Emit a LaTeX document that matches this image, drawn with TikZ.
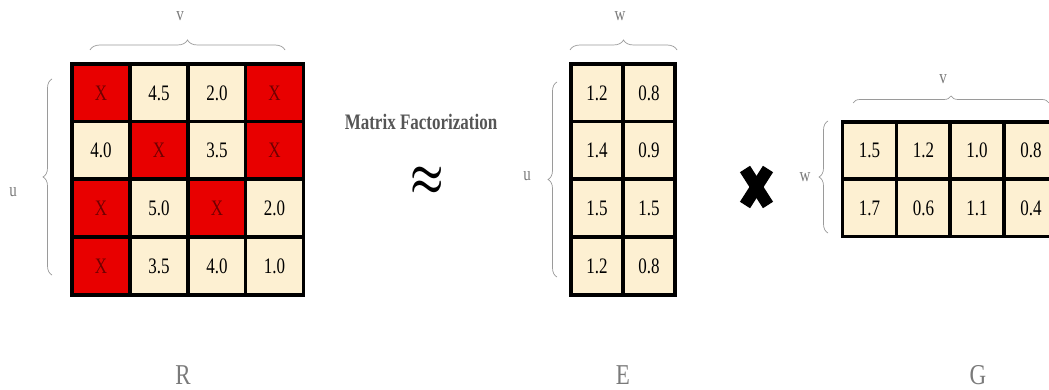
\documentclass[tikz,border=0pt]{standalone}
\usepackage{fontspec}
\setmainfont{Liberation Serif}
\usetikzlibrary{decorations.pathreplacing}
\definecolor{cream}{HTML}{FDF0D2}
\definecolor{cellred}{HTML}{E80000}
\definecolor{xred}{HTML}{700000}
\definecolor{lblgray}{HTML}{7A7A7A}
\definecolor{bracegray}{HTML}{9A9A9A}
\definecolor{titlegray}{HTML}{555555}
\newcommand{\tallt}[1]{\scalebox{1}[1.3]{#1}}
\begin{document}
\begin{tikzpicture}[x=1pt,y=-1pt,
  cellc/.style={draw=black,line width=3.5pt,fill=cream,minimum width=58pt,minimum height=58pt,inner sep=0pt,font=\fontsize{17}{17}\selectfont},
  cellr/.style={cellc,fill=cellred,text=xred},
  celle/.style={cellc,minimum width=52pt},
  cellg/.style={cellc,minimum width=54pt,minimum height=57pt},
  bracepath/.style={decorate,decoration={brace,amplitude=#1},draw=bracegray,line width=0.7pt},
  dimlabel/.style={text=lblgray,font=\fontsize{15}{15}\selectfont,inner sep=0pt},
  matlabel/.style={text=lblgray,font=\fontsize{23}{23}\selectfont,inner sep=0pt},
  xmark/.style={line width=12pt,draw=black}]
\useasboundingbox (0,0) rectangle (1049,390);
% ---- R matrix
\node[cellr] (r11) at (101,93) {\tallt{X}};
\node[cellc] (r12) at (159,93) {\tallt{4.5}};
\node[cellc] (r13) at (217,93) {\tallt{2.0}};
\node[cellr] (r14) at (274.5,93) {\tallt{X}};
\node[cellc] (r21) at (101,150.5) {\tallt{4.0}};
\node[cellr] (r22) at (159,150.5) {\tallt{X}};
\node[cellc] (r23) at (217,150.5) {\tallt{3.5}};
\node[cellr] (r24) at (274.5,150.5) {\tallt{X}};
\node[cellr] (r31) at (101,208) {\tallt{X}};
\node[cellc] (r32) at (159,208) {\tallt{5.0}};
\node[cellr] (r33) at (217,208) {\tallt{X}};
\node[cellc] (r34) at (274.5,208) {\tallt{2.0}};
\node[cellr] (r41) at (101,266) {\tallt{X}};
\node[cellc] (r42) at (159,266) {\tallt{3.5}};
\node[cellc] (r43) at (217,266) {\tallt{4.0}};
\node[cellc] (r44) at (274.5,266) {\tallt{1.0}};
% ---- E matrix
\node[celle] (e11) at (597,93) {\tallt{1.2}};
\node[celle] (e12) at (649,93) {\tallt{0.8}};
\node[celle] (e21) at (597,150.5) {\tallt{1.4}};
\node[celle] (e22) at (649,150.5) {\tallt{0.9}};
\node[celle] (e31) at (597,208) {\tallt{1.5}};
\node[celle] (e32) at (649,208) {\tallt{1.5}};
\node[celle] (e41) at (597,266) {\tallt{1.2}};
\node[celle] (e42) at (649,266) {\tallt{0.8}};
% ---- G matrix
\node[cellg] (g11) at (869.5,150.5) {\tallt{1.5}};
\node[cellg] (g12) at (923.5,150.5) {\tallt{1.2}};
\node[cellg] (g13) at (977,150.5) {\tallt{1.0}};
\node[cellg] (g14) at (1031,150.5) {\tallt{0.8}};
\node[cellg] (g21) at (869.5,208) {\tallt{1.7}};
\node[cellg] (g22) at (923.5,208) {\tallt{0.6}};
\node[cellg] (g23) at (977,208) {\tallt{1.1}};
\node[cellg] (g24) at (1031,208) {\tallt{0.4}};
% ---- braces
\coordinate (rvL) at (90,50);  \coordinate (rvR) at (285,50);
\coordinate (ruB) at (52,275); \coordinate (ruT) at (52,79);
\coordinate (ewL) at (570,50); \coordinate (ewR) at (677,50);
\coordinate (euB) at (557,277); \coordinate (euT) at (557,82);
\coordinate (gvL) at (853,103); \coordinate (gvR) at (1049,103);
\coordinate (gwB) at (828,233); \coordinate (gwT) at (828,121);
\draw[bracepath=10pt] (rvL) -- (rvR);
\draw[bracepath=9pt] (ruB) -- (ruT);
\draw[bracepath=10pt] (ewL) -- (ewR);
\draw[bracepath=9pt] (euB) -- (euT);
\draw[bracepath=7pt] (gvL) -- (gvR);
\draw[bracepath=9pt] (gwB) -- (gwT);
% ---- dimension labels
\node[dimlabel] (lv1) at (180,16) {\tallt{v}};
\node[dimlabel] (lu1) at (13,192) {\tallt{u}};
\node[dimlabel] (lw1) at (620,16) {\tallt{w}};
\node[dimlabel] (lu2) at (527,176) {\tallt{u}};
\node[dimlabel] (lv2) at (943,79) {\tallt{v}};
\node[dimlabel] (lw2) at (805,177) {\tallt{w}};
% ---- matrix names
\node[matlabel] (nR) at (183,375) {\scalebox{1}[1.25]{R}};
\node[matlabel] (nE) at (623,375) {\scalebox{1}[1.25]{E}};
\node[matlabel] (nG) at (978,375) {\scalebox{1}[1.25]{G}};
% ---- operators
\node[text=titlegray,font=\bfseries\fontsize{17}{17}\selectfont,inner sep=0pt] (mf) at (421,122) {\tallt{Matrix Factorization}};
\node[inner sep=0pt,font=\fontsize{38}{38}\selectfont] (approx) at (427,181) {\scalebox{1.5}[2.1]{\boldmath$\approx$}};
\coordinate (xa) at (745,169); \coordinate (xb) at (768,205);
\coordinate (xc) at (768,169); \coordinate (xd) at (745,205);
\draw[xmark] (xa) -- (xb);
\draw[xmark] (xc) -- (xd);
\end{tikzpicture}
\end{document}
